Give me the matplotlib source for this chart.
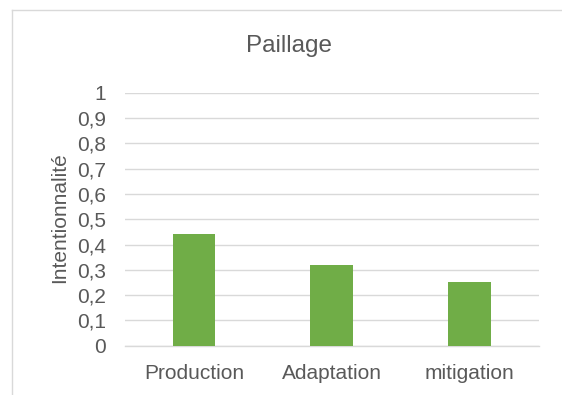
import matplotlib
matplotlib.use('Agg')
import matplotlib.pyplot as plt
from matplotlib.lines import Line2D
from matplotlib.ticker import FuncFormatter

# Données
categories = ['Production', 'Adaptation', 'mitigation']
valeurs = [0.44, 0.32, 0.25]
yticks = [0, 0.1, 0.2, 0.3, 0.4, 0.5, 0.6, 0.7, 0.8, 0.9, 1]

plt.rcParams['font.family'] = ['Liberation Sans', 'DejaVu Sans']
gris_txt = '#595959'
gris_grille = '#d9d9d9'
vert = '#70AD47'

fig = plt.figure(figsize=(5.62, 3.95), dpi=100)
ax = fig.add_axes([0.2224, 0.1248, 0.7361, 0.6405])

x = range(len(categories))
ax.bar(x, valeurs, width=0.31, color=vert, zorder=3)

ax.set_xlim(-0.5, len(categories) - 0.5)
ax.set_ylim(0, 1)
ax.set_yticks(yticks)
ax.yaxis.set_major_formatter(FuncFormatter(lambda v, p: ('%g' % round(v, 1)).replace('.', ',')))
ax.set_xticks(list(x))
ax.set_xticklabels(categories)
ax.grid(axis='y', color=gris_grille, linewidth=1.0, zorder=0)
ax.tick_params(axis='both', length=0, labelsize=15, colors=gris_txt)
ax.tick_params(axis='y', pad=13.5)
ax.tick_params(axis='x', pad=13.5)
for s in ['top', 'right', 'left']:
    ax.spines[s].set_visible(False)
ax.spines['bottom'].set_color(gris_grille)
ax.spines['bottom'].set_linewidth(1.0)

fig.text(0.514, 1 - 52.3 / 395, 'Paillage', ha='center', va='baseline',
         fontsize=17.5, color=gris_txt)
fig.text(60 / 562, 1 - 218 / 395, 'Intentionnalité', rotation=90, ha='center', va='center',
         fontsize=15, color=gris_txt)

# cadre du graphique (gauche et haut)
fig.add_artist(Line2D([11.5 / 562, 11.5 / 562], [0, 1 - 9.5 / 395], transform=fig.transFigure,
                      color=gris_grille, linewidth=1.0))
fig.add_artist(Line2D([11.5 / 562, 1], [1 - 9.5 / 395, 1 - 9.5 / 395], transform=fig.transFigure,
                      color=gris_grille, linewidth=1.0))

fig.savefig('out.png', dpi=100)
